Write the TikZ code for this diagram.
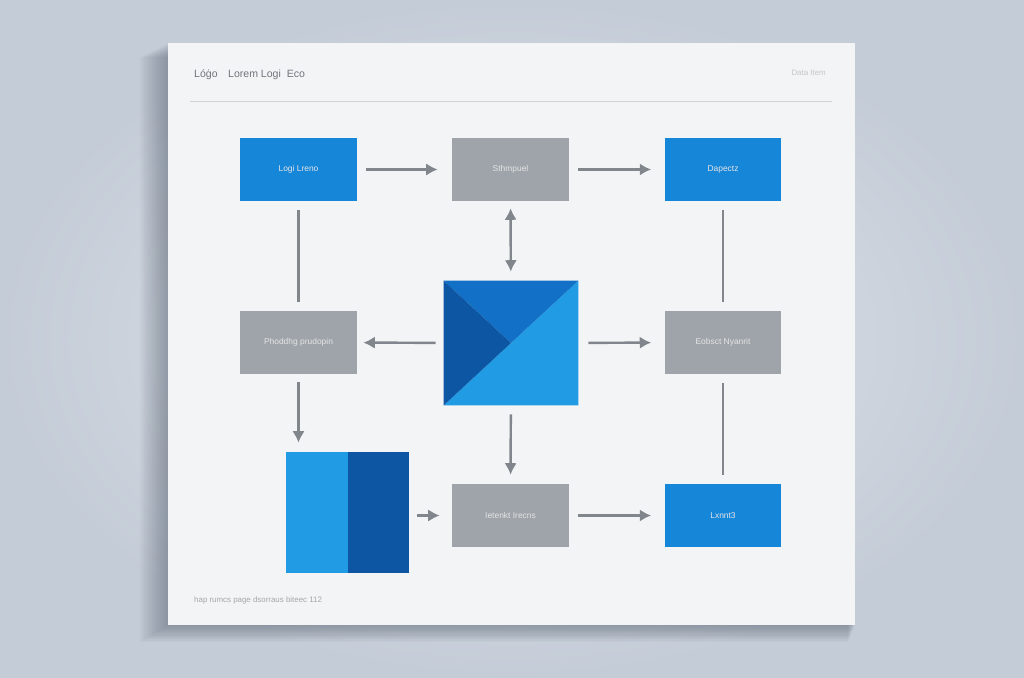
\documentclass[tikz,border=0pt]{standalone}
\usepackage{fontspec}
\setmainfont{Liberation Sans}
\usepackage{xcolor}
\usetikzlibrary{arrows.meta,positioning,calc}
\definecolor{bgedge}{RGB}{196,204,215}
\definecolor{bgmid}{RGB}{226,230,236}
\definecolor{paper}{RGB}{243,244,246}
\definecolor{boxblue}{RGB}{22,134,217}
\definecolor{lightblue}{RGB}{32,155,228}
\definecolor{midblue}{RGB}{18,112,198}
\definecolor{darkblue}{RGB}{13,86,164}
\definecolor{boxgray}{RGB}{158,164,170}
\definecolor{arrowgray}{RGB}{128,134,140}
\definecolor{textgray}{RGB}{110,116,124}
\definecolor{shadowc}{RGB}{70,80,95}

\begin{document}
\begin{tikzpicture}[
  x=0.02cm, y=-0.02cm,
  bx/.style={rectangle, inner sep=0pt, minimum width=2.34cm, minimum height=1.26cm,
    font=\fontsize{4.8}{6}\selectfont, text=white!80!gray},
  bluebox/.style={bx, fill=boxblue},
  graybox/.style={bx, fill=boxgray},
  con/.style={draw=arrowgray, line width=1.4pt},
  arr/.style={con, -{Latex[length=6.5pt,width=7pt]}},
  darr/.style={con, {Latex[length=6.5pt,width=7pt]}-{Latex[length=6.5pt,width=7pt]}}
]
  % background and sheet
  \shade[inner color=bgmid, outer color=bgedge] (0,0) rectangle (1024,678);
  \useasboundingbox (0,0) rectangle (1024,678);
  \foreach \i in {1,...,14}
    \fill[shadowc, opacity=0.035] (168-2*\i,43+\i) rectangle (855-0.5*\i,625+1.2*\i);
  \fill[paper] (168,43) rectangle (855,625);
  \draw[gray!35, line width=0.5pt] (190,101) -- (832,101);

  % header and footer
  \node[anchor=west, font=\fontsize{6}{8}\selectfont, text=textgray] (title) at (188,75)
    {Lóġo\quad Lorem Logi\ \ Eco};
  \node[anchor=east, font=\fontsize{4.5}{5}\selectfont, text=gray!45] (tag) at (832,73) {Data Item};
  \node[anchor=west, font=\fontsize{4.5}{5}\selectfont, text=gray!70] (foot) at (188,600)
    {hap rumcs page dsorraus biteec 112};

  % boxes
  \node[bluebox] (logi) at (298.5,169.5) {Logi Lreno};
  \node[graybox] (sthm) at (510.5,169.5) {Sthmpuel};
  \node[bluebox] (dape) at (723,169.5) {Dapectz};
  \node[graybox] (phod) at (298.5,342.5) {Phoddhg prudopin};
  \node[graybox] (eobs) at (723,342.5) {Eobsct Nyanrit};
  \node[graybox] (iete) at (510.5,515.5) {Ietenkt Irecns};
  \node[bluebox] (lxnn) at (723,515.5) {Lxnnt3};

  % centre square
  \node[rectangle, inner sep=0pt, minimum width=2.68cm, minimum height=2.48cm] (hub) at (511,343) {};
  \fill[lightblue] (hub.north east) -- (hub.south east) -- (hub.south west) -- cycle;
  \fill[midblue] (hub.north west) -- (hub.north east) -- (hub.center) -- cycle;
  \fill[darkblue] (hub.north west) -- (hub.center) -- (hub.south west) -- cycle;

  % split square
  \node[rectangle, inner sep=0pt, minimum width=2.46cm, minimum height=2.42cm] (split) at (347.5,512.5) {};
  \fill[lightblue] (split.north west) rectangle (split.south);
  \fill[darkblue] (split.north) rectangle (split.south east);

  % connectors
  \draw[arr, shorten <=0.18cm, shorten >=0.28cm] (logi) -- (sthm);
  \draw[arr, shorten <=0.18cm, shorten >=0.26cm] (sthm) -- (dape);
  \draw[darr, shorten <=0.14cm, shorten >=0.18cm] (sthm) -- (hub);
  \draw[con, shorten <=0.18cm, shorten >=0.18cm] (logi) -- (phod);
  \draw[con, shorten <=0.18cm, shorten >=0.18cm] (dape) -- (eobs);
  \draw[arr, shorten <=0.16cm, shorten >=0.12cm] (hub) -- (phod);
  \draw[arr, shorten <=0.2cm, shorten >=0.26cm] (hub) -- (eobs);
  \draw[arr, shorten <=0.16cm, shorten >=0.18cm] (phod.south) -- (phod.south |- split.north);
  \draw[arr, shorten <=0.18cm, shorten >=0.18cm] (hub) -- (iete);
  \draw[arr, shorten <=0.16cm, shorten >=0.24cm] (split.east |- iete.west) -- (iete.west);
  \draw[arr, shorten <=0.18cm, shorten >=0.26cm] (iete) -- (lxnn);
  \draw[con, shorten <=0.18cm, shorten >=0.18cm] (eobs) -- (lxnn);
\end{tikzpicture}
\end{document}
